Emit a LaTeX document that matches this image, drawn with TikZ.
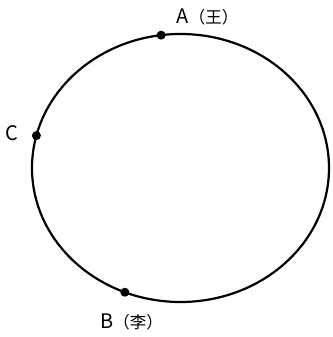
\documentclass[tikz,border=0pt]{standalone}
\usepackage{fontspec}
\setmainfont{Noto Sans CJK SC}

\newcommand{\ptname}[1]{{\fontsize{20}{24}\selectfont #1}}
\newcommand{\ptwho}[1]{{\fontsize{16.5}{18}\selectfont #1}}

\begin{document}
\begin{tikzpicture}[x=1pt,y=1pt]
    \useasboundingbox (0,0) rectangle (332,337);
    \begin{scope}[shift={(180.5,169)}]

        % パラメータの定義
        \pgfmathsetmacro{\rx}{148.5}
        \pgfmathsetmacro{\ry}{134}

        % 点の座標の定義
        \coordinate (O) at (0,0);
        \coordinate (A) at (97.5:{\rx} and {\ry});
        \coordinate (C) at (166:{\rx} and {\ry});
        \coordinate (B) at (248:{\rx} and {\ry});

        % 楕円の描画
        \draw [line width=2.2pt] (O) ellipse [x radius=\rx, y radius=\ry];

        % 点とラベル
        \fill (A) circle (4.5);
        \fill (C) circle (4.5);
        \fill (B) circle (4.5);
        \node [inner sep=0pt] (labA) at (27,151) {\ptname{A}\ptwho{（王）}};
        \node [inner sep=0pt] (labC) at (-168.5,35) {\ptname{C}};
        \node [inner sep=0pt] (labB) at (-49,-154) {\ptname{B}\ptwho{（李）}};

    \end{scope}
\end{tikzpicture}
\end{document}
